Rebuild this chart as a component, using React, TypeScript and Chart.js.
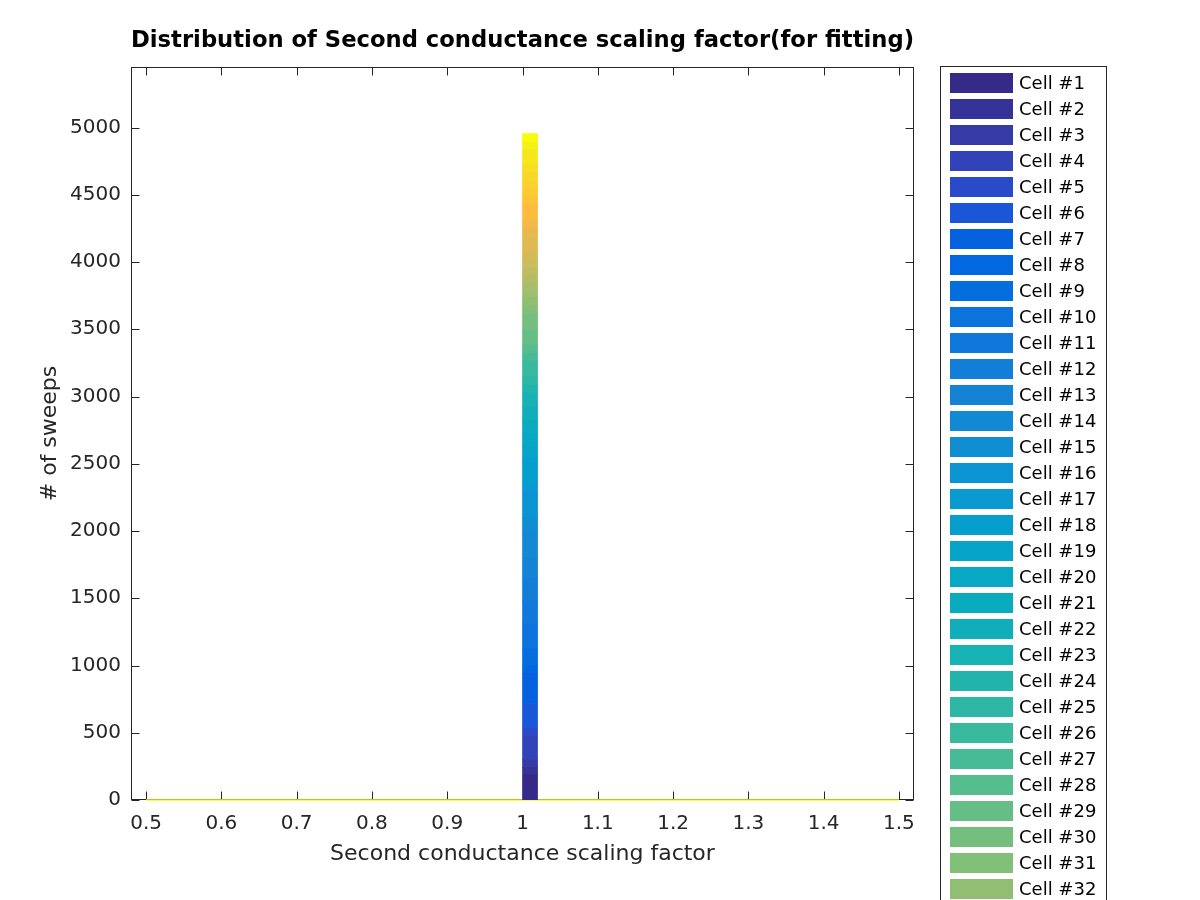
import React, { useEffect, useRef } from 'react';
import { Chart, registerables } from 'chart.js';

Chart.register(...registerables);

// ---------------- data ----------------
const chartTitle = 'Distribution of Second conductance scaling factor(for fitting)';
const xAxisLabel = 'Second conductance scaling factor';
const yAxisLabel = '# of sweeps';

// histogram bin centres (bin width 0.02, edges 0.5 .. 1.5)
const binCenters = [
  0.51, 0.53, 0.55, 0.57, 0.59, 0.61, 0.63, 0.65, 0.67, 0.69,
  0.71, 0.73, 0.75, 0.77, 0.79, 0.81, 0.83, 0.85, 0.87, 0.89,
  0.91, 0.93, 0.95, 0.97, 0.99, 1.01, 1.03, 1.05, 1.07, 1.09,
  1.11, 1.13, 1.15, 1.17, 1.19, 1.21, 1.23, 1.25, 1.27, 1.29,
  1.31, 1.33, 1.35, 1.37, 1.39, 1.41, 1.43, 1.45, 1.47, 1.49,
];
// the only populated bin
const peakBin = 1.01;

// sweeps per cell in the populated bin (stacked bottom -> top)
const cellCounts = [
  186, 57, 59, 178, 59, 178, 225, 59, 126, 186,
  171, 171, 149, 201, 97, 186, 67, 186, 82, 104,
  97, 97, 104, 60, 59, 119, 60, 59, 111, 119,
  59, 67, 52, 59, 59, 52, 60, 59, 111, 63,
  63, 111, 59, 56, 55, 67, 59, 111, 59, 62,
];
const cellNames = cellCounts.map((_, i) => `Cell #${i + 1}`);

// zero-height edge of the last series along the histogram range
const baselineX = [0.5, 1.5];
const baselineY = [0, 0];

const xRange = [0.48, 1.52];
const yRange = [0, 5450];
const xTicks = [0.5, 0.6, 0.7, 0.8, 0.9, 1.0, 1.1, 1.2, 1.3, 1.4, 1.5];
const xTickLabels = ['0.5', '0.6', '0.7', '0.8', '0.9', '1', '1.1', '1.2', '1.3', '1.4', '1.5'];
const yTicks = [0, 500, 1000, 1500, 2000, 2500, 3000, 3500, 4000, 4500, 5000];
const yTickLabels = ['0', '500', '1000', '1500', '2000', '2500', '3000', '3500', '4000', '4500', '5000'];

// ---------------- style ----------------
const PARULA: number[][] = [
  [53, 42, 135], [54, 48, 147], [54, 55, 160], [53, 61, 173], [50, 67, 186], [44, 74, 199], [32, 83, 212], [15, 92, 221],
  [3, 99, 225], [2, 104, 225], [4, 109, 224], [8, 113, 222], [13, 117, 220], [16, 121, 218], [18, 125, 216], [20, 129, 214],
  [20, 133, 212], [19, 137, 211], [16, 142, 210], [12, 147, 210], [9, 152, 209], [7, 156, 207], [6, 160, 205], [6, 164, 202],
  [6, 167, 198], [7, 169, 194], [10, 172, 190], [15, 174, 185], [21, 177, 180], [29, 179, 175], [37, 181, 169], [46, 183, 164],
  [56, 185, 158], [66, 187, 152], [77, 188, 146], [89, 189, 140], [101, 190, 134], [113, 191, 128], [124, 191, 123], [135, 191, 119],
  [146, 191, 115], [156, 191, 111], [165, 190, 107], [174, 190, 103], [183, 189, 100], [192, 188, 96], [200, 188, 93], [209, 187, 89],
  [217, 186, 86], [225, 185, 82], [233, 185, 78], [241, 185, 74], [248, 186, 68], [253, 190, 61], [255, 195, 55], [254, 200, 50],
  [252, 206, 46], [250, 211, 42], [247, 216, 38], [245, 222, 33], [245, 228, 29], [245, 235, 24], [246, 243, 19], [249, 251, 14],
];

function parula(i: number, n: number): string {
  const pos = n <= 1 ? 0 : (i / (n - 1)) * (PARULA.length - 1);
  const lo = Math.floor(pos);
  const hi = Math.min(lo + 1, PARULA.length - 1);
  const f = pos - lo;
  const c = PARULA[lo].map((v, k) => Math.round(v + (PARULA[hi][k] - v) * f));
  return `rgb(${c[0]},${c[1]},${c[2]})`;
}

const AXIS_COLOR = '#262626';
const FONT = "'DejaVu Sans', sans-serif";

const axesPlugin = {
  id: 'matlabAxes',
  beforeDatasetsDraw(chart: any) {
    const { ctx, chartArea: a, scales } = chart;
    ctx.save();
    ctx.strokeStyle = AXIS_COLOR;
    ctx.lineWidth = 1;
    const L = Math.round(a.left) + 0.5;
    const R = Math.round(a.right) - 0.5;
    const T = Math.round(a.top) + 0.5;
    const B = Math.round(a.bottom) - 0.5;
    ctx.strokeRect(L, T, R - L, B - T);
    const tl = 8;
    ctx.beginPath();
    xTicks.forEach((v) => {
      const px = Math.round(scales.x.getPixelForValue(v)) + 0.5;
      ctx.moveTo(px, B);
      ctx.lineTo(px, B - tl);
      ctx.moveTo(px, T);
      ctx.lineTo(px, T + tl);
    });
    yTicks.forEach((v) => {
      const py = Math.round(scales.y.getPixelForValue(v)) + 0.5;
      ctx.moveTo(L, py);
      ctx.lineTo(L + tl, py);
      ctx.moveTo(R, py);
      ctx.lineTo(R - tl, py);
    });
    ctx.stroke();
    ctx.restore();
  },
};

const legendPlugin = {
  id: 'matlabLegend',
  afterDraw(chart: any) {
    const { ctx } = chart;
    const n = cellNames.length;
    ctx.save();
    ctx.fillStyle = '#ffffff';
    ctx.fillRect(940.5, 66.5, 166, 900);
    ctx.strokeStyle = AXIS_COLOR;
    ctx.lineWidth = 1;
    ctx.strokeRect(940.5, 66.5, 166, 900);
    ctx.font = `18px ${FONT}`;
    ctx.textBaseline = 'middle';
    ctx.textAlign = 'left';
    for (let i = 0; i < n; i++) {
      const cy = 83 + 26 * i;
      ctx.fillStyle = parula(i, n);
      ctx.fillRect(950, cy - 10, 63, 20);
      ctx.fillStyle = '#000000';
      ctx.fillText(cellNames[i], 1019, cy + 1);
    }
    ctx.restore();
  },
};

export default function App() {
  const ref = useRef<HTMLCanvasElement | null>(null);

  useEffect(() => {
    const canvas = ref.current;
    if (!canvas) return;

    const titleSize = 22.9;
    const titleLH = titleSize * 1.2;
    const titleMid = 41;
    const padTop = titleMid - titleLH / 2;
    const titlePadBottom = 67 - padTop - titleLH;

    const n = cellCounts.length;
    const barSets = cellCounts.map((count, i) => ({
      type: 'bar' as const,
      label: cellNames[i],
      data: binCenters.map((x) => ({ x, y: x === peakBin ? count : null })),
      backgroundColor: parula(i, n),
      borderWidth: 0,
      barPercentage: 1,
      categoryPercentage: 1,
      order: 0,
    }));

    const baseline = {
      type: 'line' as const,
      label: 'edge',
      data: baselineX.map((x, i) => ({ x, y: baselineY[i] })),
      borderColor: 'rgb(249,251,14)',
      borderWidth: 1.6,
      pointRadius: 0,
      clip: false as any,
      order: 1,
    };

    const chart = new Chart(canvas, {
      type: 'bar',
      data: { datasets: [baseline as any, ...barSets] },
      options: {
        responsive: false,
        animation: false,
        events: [],
        layout: { padding: { top: padTop, right: 286, bottom: 0, left: 0 } },
        plugins: {
          legend: { display: false },
          tooltip: { enabled: false },
          title: {
            display: true,
            text: chartTitle,
            fullSize: false,
            color: '#000000',
            font: { family: FONT, size: titleSize, weight: 'bold', lineHeight: 1.2 },
            padding: { top: 0, bottom: titlePadBottom },
          },
        },
        scales: {
          x: {
            type: 'linear',
            stacked: true,
            offset: false,
            min: xRange[0],
            max: xRange[1],
            grid: { display: false, drawTicks: false, offset: false },
            border: { display: false },
            afterBuildTicks: (s: any) => {
              s.ticks = xTicks.map((v) => ({ value: v }));
            },
            afterFit: (s: any) => {
              s.height = 100;
            },
            ticks: {
              color: AXIS_COLOR,
              font: { family: FONT, size: 20 },
              padding: 12,
              maxRotation: 0,
              autoSkip: false,
              callback: (_v: any, i: number) => xTickLabels[i],
            },
            title: {
              display: true,
              text: xAxisLabel,
              color: AXIS_COLOR,
              font: { family: FONT, size: 22, lineHeight: 1.2 },
              padding: { top: 0, bottom: 33 },
            },
          },
          y: {
            type: 'linear',
            stacked: true,
            min: yRange[0],
            max: yRange[1],
            grid: { display: false, drawTicks: false },
            border: { display: false },
            afterBuildTicks: (s: any) => {
              s.ticks = yTicks.map((v) => ({ value: v }));
            },
            afterFit: (s: any) => {
              s.width = 131;
            },
            ticks: {
              color: AXIS_COLOR,
              font: { family: FONT, size: 20 },
              padding: 10,
              autoSkip: false,
              callback: (_v: any, i: number) => yTickLabels[i],
            },
            title: {
              display: true,
              text: yAxisLabel,
              color: AXIS_COLOR,
              font: { family: FONT, size: 22, lineHeight: 1.2 },
              padding: { top: 37, bottom: 0 },
            },
          },
        },
      } as any,
      plugins: [axesPlugin, legendPlugin],
    });

    return () => chart.destroy();
  }, []);

  return (
    <div style={{ position: 'fixed', left: 0, top: 0, width: 1200, height: 900, background: '#fff', overflow: 'hidden' }}>
      <canvas ref={ref} width={1200} height={900} style={{ width: 1200, height: 900, display: 'block' }} />
    </div>
  );
}
